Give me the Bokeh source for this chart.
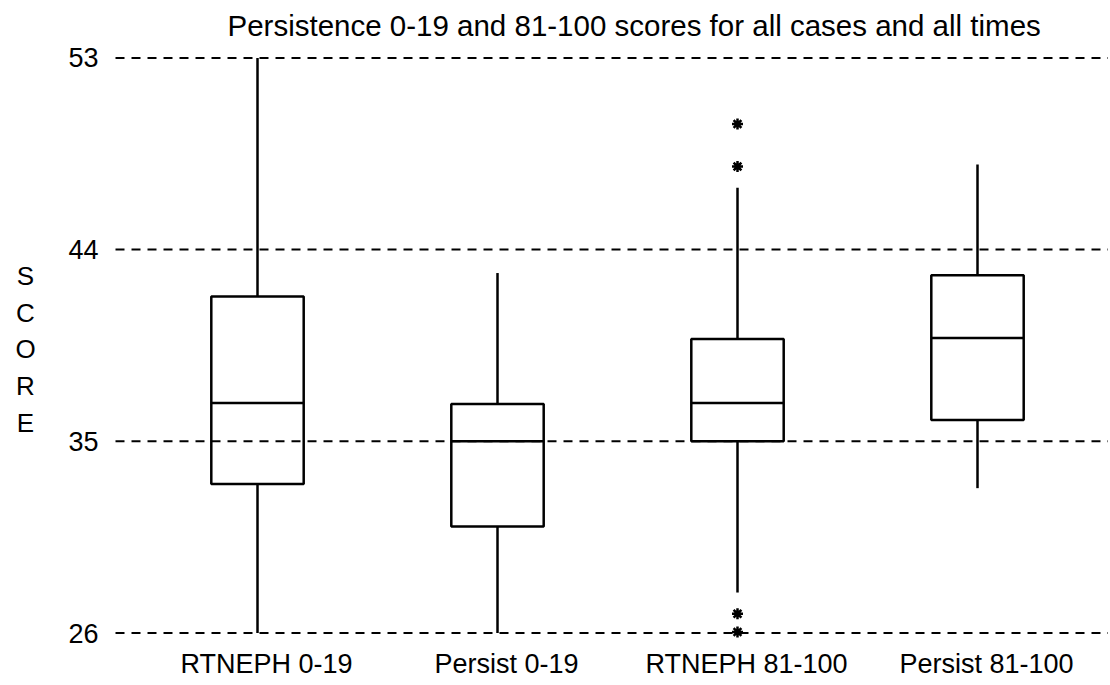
from bokeh.plotting import figure
from bokeh.models import Range1d, ColumnDataSource
from bokeh.core.properties import value
from bokeh.embed import file_html
from bokeh.resources import INLINE

# ---- data ----
categories = ["RTNEPH 0-19", "Persist 0-19", "RTNEPH 81-100", "Persist 81-100"]
q1 = [33.0, 31.0, 35.0, 36.0]
median = [36.8, 35.0, 36.8, 39.85]
q3 = [41.8, 36.75, 39.8, 42.8]
lower_whisker = [26.0, 26.0, 27.9, 32.8]
upper_whisker = [53.0, 42.9, 46.9, 48.0]
outlier_category = [3, 3, 3, 3]
outlier_values = [49.9, 47.9, 26.9, 26.05]
y_ticks = [26, 35, 44, 53]
title_text = "Persistence 0-19 and 81-100 scores for all cases and all times"
y_label = "S\nC\nO\nR\nE"

FONT = "Liberation Sans"
W, H = 1108, 683
px_x = 240.0   # pixels per category
px_y = 21.3    # pixels per score unit
x0 = 1 - 257 / px_x
x1 = x0 + W / px_x
y1 = 26 + 632.5 / px_y
y0 = y1 - H / px_y


def sx(px):
    return x0 + px / px_x


def sy(py):
    return y1 - py / px_y


p = figure(width=W, height=H, output_backend="svg", toolbar_location=None,
           x_range=Range1d(x0, x1), y_range=Range1d(y0, y1),
           min_border=0, min_border_left=0, min_border_right=0,
           min_border_top=0, min_border_bottom=0)
p.axis.visible = False
p.grid.visible = False
p.outline_line_color = None
p.background_fill_color = "white"
p.border_fill_color = "white"

xs = [i + 1 for i in range(len(categories))]
box_w = 0.385

# dashed reference lines
p.segment(x0=[sx(115)] * len(y_ticks), x1=[x1] * len(y_ticks), y0=y_ticks, y1=y_ticks,
          line_color="black", line_width=2, line_dash="9 7")

# y tick labels
p.text(x=[sx(98)] * len(y_ticks), y=y_ticks, text=[str(t) for t in y_ticks],
       text_font=value(FONT), text_font_size="27px", text_align="right",
       text_baseline="middle", text_color="black")

src = ColumnDataSource(dict(x=xs, q1=q1, med=median, q3=q3, lo=lower_whisker, hi=upper_whisker,
                            left=[x - box_w / 2 for x in xs], right=[x + box_w / 2 for x in xs]))
# whiskers
p.segment(x0="x", x1="x", y0="q3", y1="hi", source=src, line_color="black", line_width=2.5)
p.segment(x0="x", x1="x", y0="lo", y1="q1", source=src, line_color="black", line_width=2.5)
# boxes
p.quad(left="left", right="right", bottom="q1", top="q3", source=src,
       fill_color=None, line_color="black", line_width=2.5)
# medians
p.segment(x0="left", x1="right", y0="med", y1="med", source=src, line_color="black", line_width=2.5)

# outliers
p.scatter(x=outlier_category, y=outlier_values, marker="asterisk", size=11,
          line_color="black", line_width=2.5)

# category labels
p.text(x=[x + 9 / px_x for x in xs], y=[sy(663)] * len(xs), text=categories,
       text_font=value(FONT), text_font_size="27px", text_align="center",
       text_baseline="middle", text_color="black")

# title
p.text(x=[sx(227)], y=[sy(25)], text=[title_text],
       text_font=value(FONT), text_font_size="29.5px", text_align="left",
       text_baseline="middle", text_color="black")

# stacked y label
p.text(x=[sx(25)], y=[sy(349)], text=[y_label],
       text_font=value(FONT), text_font_size="26px", text_align="center",
       text_baseline="middle", text_line_height=1.22, text_color="black")

open("out.html", "w").write(file_html(p, INLINE))
